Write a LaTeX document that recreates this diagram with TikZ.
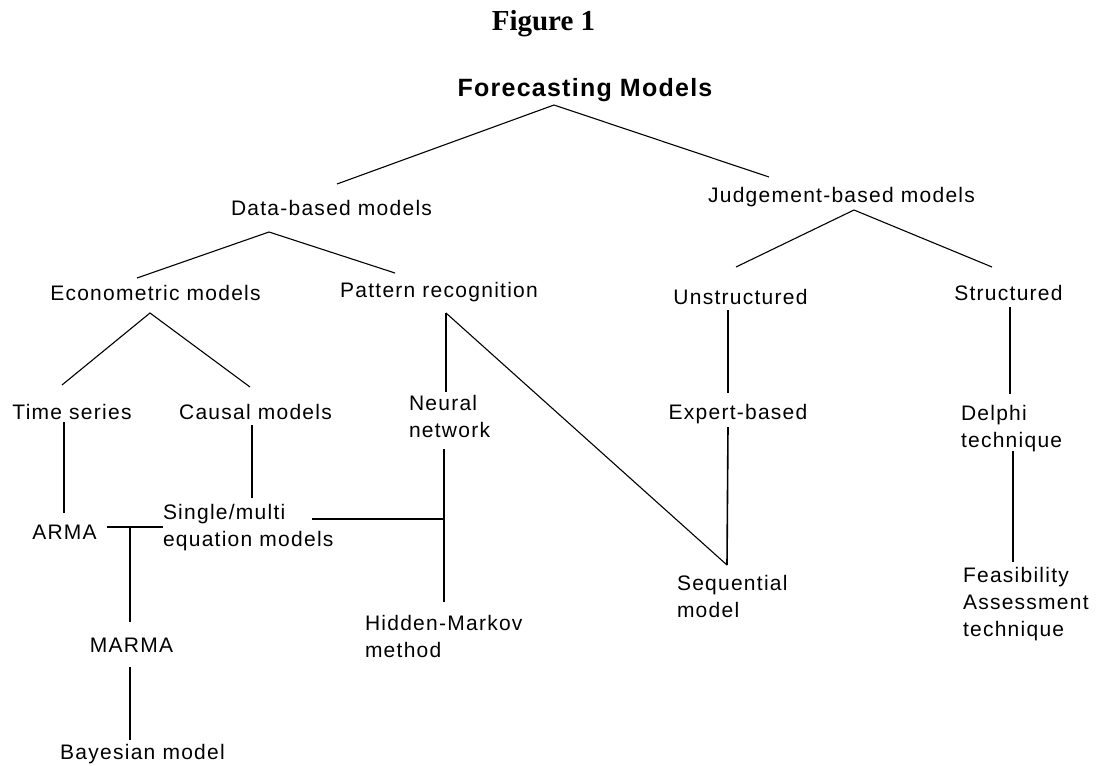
\documentclass[tikz,border=0pt]{standalone}
\usepackage{fontspec}
\setmainfont{Liberation Serif}
\newfontfamily\lsans[LetterSpace=6]{Liberation Sans}
\newfontfamily\lsansb[LetterSpace=5]{Liberation Sans}
\begin{document}
\begin{tikzpicture}[x=1pt,y=-1pt,
  lbl/.style={inner sep=0pt, outer sep=0pt, font=\lsans\fontsize{21}{27}\selectfont},
  multi/.style={lbl, align=left, anchor=north west},
  single/.style={lbl, anchor=base},
  conn/.style={line width=1.6pt, line cap=butt, black},
  diag/.style={line width=1.1pt, line cap=butt, black}]
\useasboundingbox (0,0) rectangle (1096,766);
\fill[white] (0,0) rectangle (1096,766);

% titles
\node[inner sep=0pt, anchor=base, font=\bfseries\fontsize{29}{31}\selectfont] (fig) at (543.5,30) {Figure 1};
\node[inner sep=0pt, anchor=base, font=\lsansb\bfseries\fontsize{25}{30}\selectfont] (fm) at (585,96) {Forecasting Models};

% level 1
\node[single] (data) at (331.5,215) {Data-based models};
\node[single] (judg) at (841.5,202.5) {Judgement-based models};

% level 2
\node[single] (econ) at (155.5,300.5) {Econometric models};
\node[single] (patt) at (439,297.5) {Pattern recognition};
\node[single] (unst) at (740.5,304.5) {Unstructured};
\node[single] (stru) at (1008.5,300.5) {Structured};

% level 3
\node[single] (ts) at (72,419.5) {Time series};
\node[single] (caus) at (255.5,419.5) {Causal models};
\node[multi] (nn) at (409,395) {Neural\\network};
\node[single] (exp) at (738,419.5) {Expert-based};
\node[multi] (del) at (961,405) {Delphi\\technique};

% level 4
\node[single] (arma) at (64.5,539.5) {ARMA};
\node[multi] (smem) at (163,504) {Single/multi\\equation models};
\node[multi] (hmm) at (365,615) {Hidden-Markov\\method};
\node[multi] (seq) at (677,575) {Sequential\\model};
\node[multi] (fea) at (963,567) {Feasibility\\Assessment\\technique};

% level 5
\node[single] (marma) at (131.5,652.5) {MARMA};
\node[single] (bay) at (142.5,759.5) {Bayesian model};

% connector end points
\coordinate (fmA) at (554,105);
\coordinate (dataT) at (337,184);
\coordinate (judgT) at (769,177);
\coordinate (dataA) at (269,232);
\coordinate (econT) at (137,278);
\coordinate (pattT) at (395,273);
\coordinate (judgA) at (854,210);
\coordinate (unstT) at (736,267);
\coordinate (struT) at (992,267);
\coordinate (econA) at (150,313);
\coordinate (tsT) at (62,385);
\coordinate (causT) at (250,387);
\coordinate (pattA) at (446,313);
\coordinate (nnT) at (446,392);
\coordinate (seqT) at (727,565);
\coordinate (tsB) at (64,422);
\coordinate (armaT) at (64,513);
\coordinate (causB) at (252,425);
\coordinate (smemT) at (252,498);
\coordinate (armaR) at (107,527);
\coordinate (smemL) at (163,527);
\coordinate (tee) at (130,527);
\coordinate (marmaT) at (130,622);
\coordinate (marmaB) at (130,667);
\coordinate (bayT) at (130,740);
\coordinate (smemR) at (312,519);
\coordinate (nnJ) at (444,519);
\coordinate (nnB) at (444,449);
\coordinate (hmmT) at (444,602);
\coordinate (unstB) at (728,310);
\coordinate (expT) at (728,393);
\coordinate (expB) at (728,427);
\coordinate (struB) at (1010,307);
\coordinate (delT) at (1010,394);
\coordinate (delB) at (1013,451);
\coordinate (feaT) at (1013,562);

% connectors
\draw[diag] (dataT) -- (fmA) -- (judgT);
\draw[diag] (econT) -- (dataA) -- (pattT);
\draw[diag] (unstT) -- (judgA) -- (struT);
\draw[diag] (tsT) -- (econA) -- (causT);
\draw[conn] (nnT) -- (pattA);
\draw[diag] (pattA) -- (seqT);
\draw[conn] (tsB) -- (armaT);
\draw[conn] (causB) -- (smemT);
\draw[conn] (armaR) -- (smemL);
\draw[conn] (tee) -- (marmaT);
\draw[conn] (marmaB) -- (bayT);
\draw[conn] (smemR) -- (nnJ);
\draw[conn] (nnB) -- (hmmT);
\draw[conn] (unstB) -- (expT);
\draw[conn] (expB) -- (seqT);
\draw[conn] (struB) -- (delT);
\draw[conn] (delB) -- (feaT);
\end{tikzpicture}
\end{document}
